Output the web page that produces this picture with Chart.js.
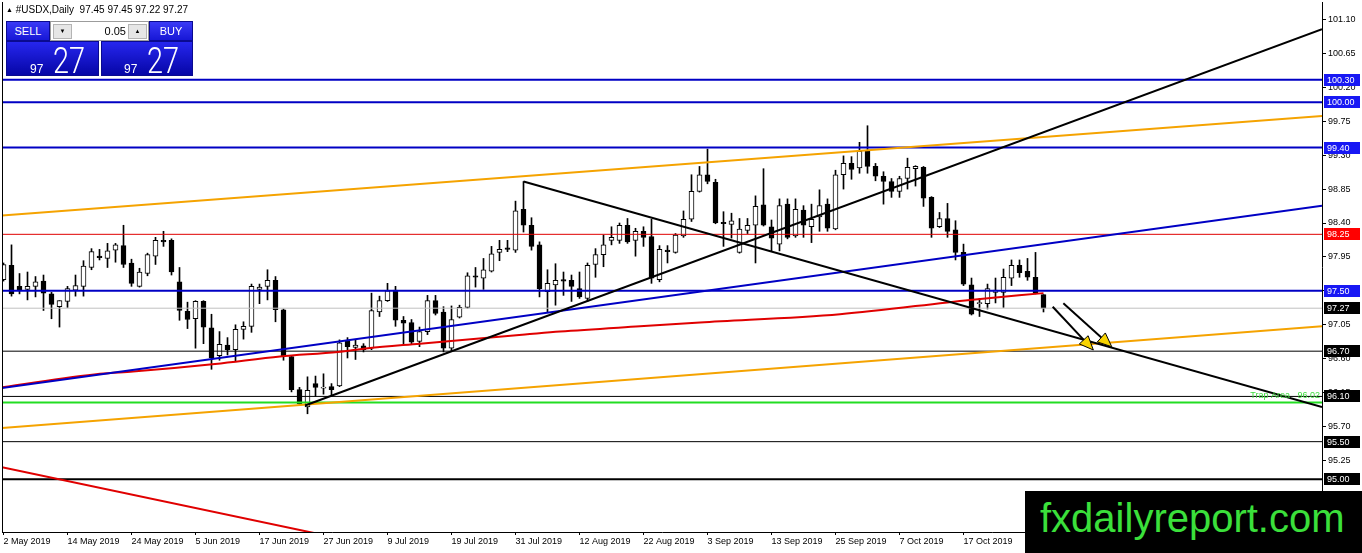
<!DOCTYPE html>
<html><head><meta charset="utf-8">
<script src="https://cdn.jsdelivr.net/npm/chart.js@4.4.1/dist/chart.umd.min.js"></script>
<style>
html,body{margin:0;padding:0;background:#fff;overflow:hidden}
#wrap{position:relative;width:1362px;height:553px;font-family:'Liberation Sans',Arial,sans-serif}
canvas{display:block;position:absolute;left:0;top:0}
.abs{position:absolute}
#hdr{left:6px;top:4px;font-size:10px;line-height:12px;color:#000;white-space:pre}
#hdr .tri{font-size:7px;vertical-align:1px}
.blk{position:absolute;background:linear-gradient(to bottom,#3a3af6,#1717d6);color:#fff;font-size:11px;line-height:19px;text-align:center;box-sizing:border-box;border:1px solid #0a0a90}
.blk2{position:absolute;background:linear-gradient(to bottom,#2626ee,#0606a6);color:#fff;box-sizing:border-box;border:1px solid #0a0a90}
.inp{position:absolute;background:#fff;border:1px solid #9c9c9c;box-sizing:border-box}
.btn{position:absolute;top:2px;width:19px;height:15px;background:#e6e6e6;border:1px solid #b4b4b4;box-sizing:border-box;font-size:6px;line-height:13px;text-align:center;color:#000}
.val{position:absolute;right:22px;top:0;font-size:11px;line-height:18px;color:#000}
.sm{position:absolute;font-size:12px;line-height:12px;color:#fff}
.big{position:absolute;font-family:Roboto,'Liberation Sans',sans-serif;font-weight:300;font-size:37px;line-height:37px;color:#fff;transform:scaleX(0.78);transform-origin:left top;display:inline-block}
#wm{left:1025px;top:491px;width:337px;height:62px;background:#000}
#wm span{position:absolute;left:15px;top:7px;font-size:40px;line-height:40px;color:#3be03b;white-space:nowrap}
</style></head><body>
<div id="wrap">
<canvas id="c" width="1362" height="553"></canvas>
<div id="hdr" class="abs"><span class="tri">▲</span> #USDX,Daily  97.45 97.45 97.22 97.27</div>
<div class="blk" style="left:6px;top:21px;width:44px;height:20px">SELL</div>
<div class="inp" style="left:50px;top:21px;width:99px;height:20px">
  <div class="btn" style="left:2px">▼</div>
  <div class="val">0.05</div>
  <div class="btn" style="left:77px">▲</div>
</div>
<div class="blk" style="left:149px;top:21px;width:44px;height:20px">BUY</div>
<div class="blk2" style="left:6px;top:41px;width:93px;height:35px">
  <span class="sm" style="left:23px;top:21px">97</span>
  <span class="big" style="left:46px;top:0px">27</span>
</div>
<div class="blk2" style="left:101px;top:41px;width:92px;height:35px">
  <span class="sm" style="left:22px;top:21px">97</span>
  <span class="big" style="left:45px;top:0px">27</span>
</div>
<div id="wm" class="abs"><span>fxdailyreport.com</span></div>
</div>
<script>
// ---------- data ----------
const tickIndex = [0,8,16,24,32,40,48,56,64,72,80,88,96,104,112,120];
const tickLabels = ["2 May 2019","14 May 2019","24 May 2019","5 Jun 2019","17 Jun 2019","27 Jun 2019","9 Jul 2019","19 Jul 2019","31 Jul 2019","12 Aug 2019","22 Aug 2019","3 Sep 2019","13 Sep 2019","25 Sep 2019","7 Oct 2019","17 Oct 2019"];
const yTicks = [94.80,95.25,95.70,96.15,96.60,97.05,97.50,97.95,98.40,98.85,99.30,99.75,100.20,100.65,101.10];

const open = [97.65,97.84,97.56,97.52,97.56,97.63,97.46,97.29,97.36,97.51,97.56,97.81,97.96,97.93,98.04,98.10,97.87,97.56,97.73,97.96,
98.17,98.17,97.62,97.23,97.13,97.36,97.01,96.64,96.78,96.72,96.99,97.03,97.52,97.56,97.64,97.25,96.63,96.19,95.96,96.27,
96.21,96.23,96.24,96.83,96.75,96.77,96.74,97.22,97.37,97.51,97.11,97.08,96.83,96.96,97.37,97.22,96.74,97.15,97.28,97.70,
97.67,97.76,98.01,98.07,98.04,98.58,98.37,98.11,97.49,97.58,97.65,97.64,97.53,97.40,97.85,97.98,98.17,98.17,98.37,98.17,
98.29,98.22,97.65,98.04,98.01,98.23,98.45,98.82,99.04,98.94,98.41,98.38,98.01,98.30,98.37,98.64,98.35,98.12,98.65,98.23,
98.57,98.35,98.48,98.65,98.32,99.04,99.19,99.13,99.36,99.15,99.02,98.95,98.82,98.99,99.12,99.14,98.74,98.35,98.46,98.31,
98.01,97.58,97.33,97.33,97.48,97.48,97.67,97.84,97.76,97.68,97.45];
const high = [97.87,98.11,97.73,97.75,97.69,97.71,97.48,97.37,97.56,97.71,97.90,98.06,98.05,98.13,98.13,98.37,97.92,97.80,98.00,98.21,
98.29,98.19,97.81,97.35,97.37,97.37,97.19,96.96,96.88,97.05,97.09,97.59,97.59,97.78,97.69,97.26,96.64,96.22,96.36,96.37,
96.40,96.27,96.85,96.88,96.85,96.80,97.47,97.43,97.60,97.56,97.16,97.12,97.02,97.44,97.44,97.29,97.30,97.31,97.74,97.81,
97.93,98.09,98.17,98.17,98.69,98.95,98.47,98.15,97.78,97.86,97.75,97.71,97.75,97.87,98.06,98.24,98.35,98.40,98.46,98.33,
98.35,98.45,98.10,98.10,98.26,98.56,99.04,99.15,99.38,98.98,98.55,98.53,98.46,98.46,98.76,99.12,98.44,98.72,98.72,98.72,
98.63,98.65,98.84,98.72,99.10,99.29,99.28,99.47,99.69,99.19,99.08,98.99,99.02,99.26,99.16,99.15,98.75,98.54,98.66,98.43,
98.12,97.67,97.40,97.59,97.67,97.79,97.91,97.91,97.93,98.01,97.45];
const low = [97.63,97.43,97.46,97.38,97.42,97.24,97.13,97.02,97.28,97.43,97.43,97.78,97.91,97.81,97.88,97.81,97.56,97.55,97.70,97.85,
98.09,97.71,97.11,97.00,96.74,96.80,96.46,96.58,96.65,96.57,96.86,96.95,97.33,97.38,97.09,96.58,96.16,95.99,95.87,96.10,
96.13,96.12,96.23,96.61,96.59,96.69,96.72,97.16,97.36,97.03,96.80,96.80,96.76,96.92,97.18,96.69,96.70,97.14,97.27,97.55,
97.52,97.75,97.90,98.02,98.01,98.28,98.04,97.42,97.22,97.31,97.44,97.36,97.40,97.36,97.68,97.82,98.11,98.13,98.13,97.96,
98.09,97.60,97.62,97.87,98.00,98.21,98.42,98.81,98.92,98.39,98.09,98.20,98.00,98.26,97.87,98.36,98.03,98.03,98.19,98.21,
98.21,98.14,98.29,98.29,98.31,98.85,98.98,99.06,99.06,98.96,98.65,98.74,98.74,98.85,98.89,98.62,98.21,98.34,98.21,97.91,
97.57,97.18,97.16,97.26,97.34,97.28,97.57,97.68,97.64,97.46,97.22];
const close = [97.85,97.46,97.51,97.56,97.62,97.47,97.32,97.37,97.53,97.57,97.83,98.02,97.94,98.03,98.11,97.85,97.60,97.75,97.98,98.17,
98.15,97.75,97.24,97.12,97.36,97.02,96.61,96.79,96.72,96.99,97.03,97.56,97.55,97.64,97.25,96.64,96.19,96.00,96.18,96.22,
96.22,96.19,96.81,96.76,96.78,96.72,97.24,97.37,97.50,97.11,97.07,96.82,96.96,97.37,97.20,96.74,97.12,97.28,97.70,97.68,
97.78,97.99,98.05,98.05,98.56,98.37,98.09,97.53,97.60,97.64,97.63,97.56,97.42,97.84,97.98,98.11,98.21,98.37,98.15,98.29,
98.21,97.67,98.05,98.02,98.24,98.45,98.82,99.04,98.95,98.40,98.39,98.43,98.32,98.37,98.62,98.37,98.20,98.63,98.21,98.58,
98.37,98.45,98.63,98.33,99.04,99.19,99.11,99.35,99.15,99.02,98.95,98.82,98.99,99.14,99.15,98.73,98.33,98.46,98.29,98.01,
97.59,97.19,97.34,97.53,97.51,97.68,97.84,97.74,97.68,97.47,97.27];

// horizontal levels (price)
const levels = [100.30, 100.00, 99.40, 98.25, 97.50, 97.27, 96.70, 96.10, 96.02, 95.50, 95.00];
// moving average, sampled along the curve (bar index, price)
const maX = [-0.19, 12.06, 16.19, 26.44, 34.56, 41.81, 45.56, 52.06, 65.19, 69.56, 79.56, 87.06, 104.56, 120.81, 130];
const maY = [96.22, 96.40, 96.43, 96.53, 96.63, 96.69, 96.74, 96.80, 96.92, 96.96, 97.03, 97.08, 97.19, 97.38, 97.47];
// trend lines: [bar index, price] end points
const orangeUpper = [[-0.1875, 98.50], [164.8125, 99.82]];
const orangeLower = [[-0.1875, 95.68], [164.8125, 97.03]];
const blueTrend   = [[-0.1875, 96.21], [164.8125, 98.63]];
const blackUp     = [[37.69, 95.98], [164.8125, 100.97]];
const blackDown   = [[65, 98.95], [164.8125, 95.96]];
const redDown     = [[-0.1875, 95.16], [41, 94.24]];
// arrows: shaft [start, end], head [tip, corner, corner]
const arrow1Shaft = [[131.15, 97.29], [135.03, 96.85]];
const arrow1Head  = [[136.23, 96.716], [134.48, 96.796], [135.58, 96.905]];
const arrow2Shaft = [[132.48, 97.335], [137.23, 96.883]];
const arrow2Head  = [[138.53, 96.759], [136.73, 96.823], [137.73, 96.942]];
const trapLabel = "Trap Area   96.02";

// ---------- styles ----------
const X_MIN = -0.1875, X_MAX = 164.8125, Y_MIN = 94.302, Y_MAX = 101.331;
const levelStyle = [
  {c:'#0000c4', w:2, box:'#1818f4'}, {c:'#0000c4', w:2, box:'#1818f4'}, {c:'#0000c4', w:2, box:'#1818f4'},
  {c:'#e00000', w:1, box:'#ff0000'}, {c:'#0000c4', w:2, box:'#1818f4'}, {c:'#c0c0c0', w:1, box:'#000000'},
  {c:'#000000', w:1, box:'#000000'}, {c:'#000000', w:1, box:'#000000'}, {c:'#22dd22', w:2, box:null},
  {c:'#000000', w:1, box:'#000000'}, {c:'#000000', w:2, box:'#000000'}
];
const FONT = "'Liberation Sans', Arial, sans-serif";
Chart.defaults.font.family = FONT;

const pts = a => a.map(p => ({x: p[0], y: p[1]}));
const idx = open.map((_, i) => i);
const line = (data, color, width, order, extra) => Object.assign({
  type: 'line', data, borderColor: color, borderWidth: width, pointRadius: 0,
  fill: false, tension: 0, order
}, extra || {});

const datasets = [];
// wicks
datasets.push({type: 'bar', data: idx.map(i => ({x: i, y: [low[i], high[i]]})),
  backgroundColor: '#000', borderWidth: 0, barThickness: 1, grouped: false, order: 30});
// bodies
datasets.push({type: 'bar', data: idx.map(i => ({x: i, y: [open[i], close[i]]})),
  backgroundColor: idx.map(i => close[i] >= open[i] ? '#ffffff' : '#000000'),
  borderColor: '#000', borderWidth: 1, borderSkipped: false, barThickness: 5,
  minBarLength: 1, grouped: false, order: 29});
// levels
levels.forEach((lv, k) => {
  datasets.push(line([{x: X_MIN, y: lv}, {x: X_MAX, y: lv}], levelStyle[k].c, levelStyle[k].w, 10 + k));
});
// moving average
datasets.push(line(maX.map((x, i) => ({x, y: maY[i]})), '#e00000', 2, 8, {cubicInterpolationMode: 'monotone'}));
// trend lines
datasets.push(line(pts(orangeUpper), '#f5a300', 2, 7));
datasets.push(line(pts(orangeLower), '#f5a300', 2, 7));
datasets.push(line(pts(blueTrend), '#0000c4', 2, 6));
datasets.push(line(pts(redDown), '#e00000', 2, 6));
datasets.push(line(pts(blackUp), '#000000', 2, 5));
datasets.push(line(pts(blackDown), '#000000', 2, 5));
// arrows
datasets.push(line(pts(arrow1Shaft), '#000000', 2, 3));
datasets.push(line(pts(arrow2Shaft), '#000000', 2, 3));
datasets.push(line(pts(arrow1Head.concat([arrow1Head[0]])), '#000000', 1, 2, {fill: 'shape', backgroundColor: '#f7d300'}));
datasets.push(line(pts(arrow2Head.concat([arrow2Head[0]])), '#000000', 1, 2, {fill: 'shape', backgroundColor: '#f7d300'}));

const overlay = {
  id: 'overlay',
  afterDraw(chart) {
    const {ctx, chartArea: a, scales: {y}} = chart;
    ctx.save();
    ctx.fillStyle = '#000';
    ctx.fillRect(a.left, a.top, 1, a.bottom - a.top);
    // trap area label
    const ty = y.getPixelForValue(96.02);
    ctx.font = '9px ' + FONT;
    ctx.textAlign = 'right';
    ctx.textBaseline = 'middle';
    ctx.fillStyle = '#3fdc3f';
    ctx.fillText(trapLabel, a.right - 2, ty - 7);
    // price boxes
    ctx.textAlign = 'left';
    levels.forEach((lv, k) => {
      const st = levelStyle[k];
      if (!st.box) return;
      const py = Math.round(y.getPixelForValue(lv));
      ctx.fillStyle = st.box;
      ctx.fillRect(a.right + 2, py - 6, 36, 12);
      ctx.fillStyle = '#fff';
      ctx.fillText(lv.toFixed(2), a.right + 5, py + 0.5);
    });
    ctx.restore();
  }
};

new Chart(document.getElementById('c'), {
  type: 'bar',
  data: {datasets},
  plugins: [overlay],
  options: {
    responsive: false, animation: false, devicePixelRatio: 1,
    layout: {padding: {left: 2, top: 2, right: 0, bottom: 0}},
    plugins: {legend: {display: false}, tooltip: {enabled: false}},
    scales: {
      x: {
        type: 'linear', min: X_MIN, max: X_MAX, offset: false,
        afterBuildTicks: s => { s.ticks = tickIndex.map(v => ({value: v})); },
        afterFit: s => { s.height = 21; s.paddingLeft = 0; s.paddingRight = 0; },
        ticks: {callback: (v, i) => tickLabels[i], autoSkip: false, maxRotation: 0, minRotation: 0,
          align: 'start', padding: 1, color: '#000', font: {size: 9}},
        grid: {drawOnChartArea: false, drawTicks: true, tickLength: 3, color: '#000', offset: false},
        border: {display: true, color: '#000', width: 1}
      },
      y: {
        type: 'linear', position: 'right', min: Y_MIN, max: Y_MAX,
        afterBuildTicks: s => { s.ticks = yTicks.map(v => ({value: v})); },
        afterFit: s => { s.width = 40; s.paddingTop = 0; s.paddingBottom = 0; },
        ticks: {callback: v => Number(v).toFixed(2), autoSkip: false, padding: 2, color: '#000', font: {size: 9}},
        grid: {drawOnChartArea: false, drawTicks: true, tickLength: 4, color: '#000'},
        border: {display: true, color: '#000', width: 1}
      }
    }
  }
});
</script>
</body></html>
